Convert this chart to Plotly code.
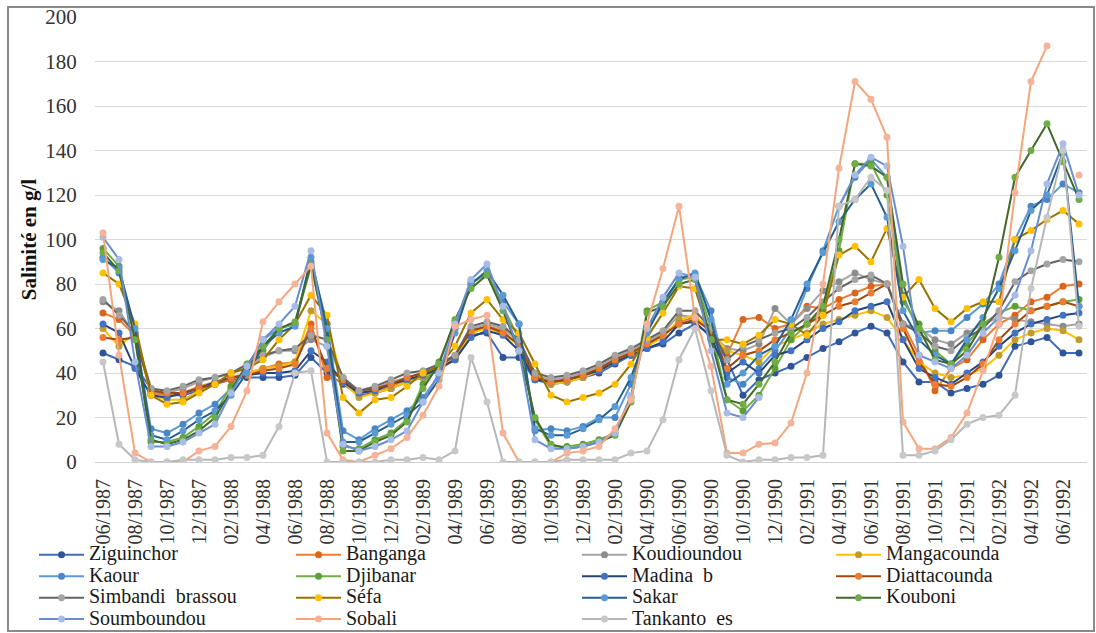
import plotly.graph_objects as go

months = ["06/1987", "07/1987", "08/1987", "09/1987", "10/1987", "11/1987", "12/1987",
          "01/1988", "02/1988", "03/1988", "04/1988", "05/1988", "06/1988", "07/1988",
          "08/1988", "09/1988", "10/1988", "11/1988", "12/1988", "01/1989", "02/1989",
          "03/1989", "04/1989", "05/1989", "06/1989", "07/1989", "08/1989", "09/1989",
          "10/1989", "11/1989", "12/1989", "01/1990", "02/1990", "03/1990", "04/1990",
          "05/1990", "06/1990", "07/1990", "08/1990", "09/1990", "10/1990", "11/1990",
          "12/1990", "01/1991", "02/1991", "03/1991", "04/1991", "05/1991", "06/1991",
          "07/1991", "08/1991", "09/1991", "10/1991", "11/1991", "12/1991", "01/1992",
          "02/1992", "03/1992", "04/1992", "05/1992", "06/1992", "07/1992"]

tick_labels = ["06/1987", "08/1987", "10/1987", "12/1987", "02/1988", "04/1988", "06/1988",
               "08/1988", "10/1988", "12/1988", "02/1989", "04/1989", "06/1989", "08/1989",
               "10/1989", "12/1989", "02/1990", "04/1990", "06/1990", "08/1990", "10/1990",
               "12/1990", "02/1991", "04/1991", "06/1991", "08/1991", "10/1991", "12/1991",
               "02/1992", "04/1992", "06/1992"]

ziguinchor = [49, 46, 43, 33, 30, 30, 32, 35, 37, 38, 38, 38, 39, 47, 40, 35, 30, 31, 33, 36, 38,
              41, 47, 57, 58, 47, 47, 37, 35, 36, 38, 40, 44, 48, 51, 53, 58, 62, 57, 46, 30, 37,
              40, 43, 47, 51, 54, 58, 61, 58, 45, 36, 36, 31, 33, 35, 39, 52, 54, 56, 49, 49]
banganga = [67, 64, 57, 31, 30, 31, 34, 36, 37, 40, 42, 44, 45, 62, 38, 36, 31, 32, 34, 37, 39,
            42, 46, 58, 61, 59, 52, 38, 36, 37, 39, 42, 46, 49, 53, 57, 63, 65, 60, 48, 64, 65,
            60, 62, 70, 69, 73, 76, 79, 80, 62, 48, 32, 42, 46, 55, 62, 66, 72, 74, 79, 80]
koudioundou = [72, 68, 57, 32, 31, 33, 36, 38, 40, 43, 47, 50, 50, 55, 52, 38, 31, 33, 36, 38, 40,
               43, 47, 60, 62, 60, 54, 39, 37, 38, 40, 43, 47, 50, 54, 58, 66, 65, 58, 51, 50, 53,
               69, 62, 69, 77, 81, 85, 82, 80, 62, 60, 55, 53, 58, 62, 65, 64, 63, 62, 61, 62]
mangacounda = [60, 52, 58, 30, 28, 28, 32, 35, 38, 40, 42, 43, 45, 68, 62, 36, 29, 31, 33, 36, 38,
               42, 46, 58, 60, 58, 52, 38, 35, 36, 38, 41, 45, 48, 52, 56, 64, 66, 58, 50, 48, 45,
               52, 55, 58, 62, 64, 66, 68, 65, 55, 45, 40, 38, 39, 42, 48, 55, 58, 60, 59, 55]
kaour = [92, 85, 58, 15, 13, 17, 22, 26, 33, 42, 55, 60, 62, 90, 62, 14, 10, 15, 19, 23, 29,
         39, 60, 81, 84, 72, 62, 14, 15, 14, 16, 20, 20, 35, 60, 70, 83, 84, 68, 38, 35, 42,
         50, 60, 78, 95, 115, 128, 136, 128, 75, 58, 59, 59, 65, 71, 80, 100, 115, 118, 125, 121]
djibanar = [96, 88, 56, 9, 9, 11, 16, 22, 34, 42, 50, 60, 62, 88, 57, 7, 6, 10, 13, 19, 35,
            45, 63, 80, 85, 70, 55, 19, 7, 7, 8, 10, 13, 29, 68, 72, 82, 83, 60, 28, 23, 30,
            42, 55, 62, 68, 95, 134, 134, 120, 72, 62, 50, 44, 53, 62, 67, 70, 68, 70, 72, 73]
madina_b = [62, 58, 42, 30, 29, 31, 33, 36, 38, 39, 40, 40, 41, 50, 45, 36, 31, 32, 35, 37, 39,
            42, 46, 56, 59, 57, 50, 37, 36, 37, 39, 41, 45, 48, 51, 54, 62, 63, 56, 40, 45, 40,
            48, 50, 55, 60, 63, 68, 70, 72, 55, 42, 38, 35, 40, 45, 52, 58, 62, 64, 66, 67]
diattacounda = [56, 55, 56, 32, 31, 31, 33, 35, 38, 39, 41, 42, 44, 60, 42, 37, 32, 33, 35, 38, 40,
                43, 48, 59, 61, 58, 53, 38, 36, 37, 39, 42, 46, 49, 53, 57, 62, 64, 59, 42, 48, 50,
                55, 58, 62, 66, 70, 72, 76, 80, 60, 45, 35, 34, 38, 44, 55, 62, 68, 70, 72, 70]
simbandi = [73, 66, 58, 33, 32, 34, 37, 38, 40, 44, 48, 50, 51, 57, 55, 38, 32, 34, 37, 40, 41,
            44, 48, 61, 63, 61, 55, 40, 38, 39, 41, 44, 48, 51, 55, 59, 68, 68, 60, 46, 52, 55,
            58, 60, 65, 72, 78, 82, 84, 80, 62, 58, 52, 50, 56, 60, 68, 81, 86, 89, 91, 90]
sefa = [85, 80, 62, 30, 26, 27, 31, 35, 40, 42, 46, 55, 62, 75, 66, 29, 22, 28, 29, 34, 40,
        43, 52, 67, 73, 64, 58, 44, 30, 27, 29, 31, 35, 44, 56, 67, 79, 78, 55, 55, 53, 57,
        64, 62, 57, 66, 93, 97, 90, 105, 74, 82, 69, 63, 69, 72, 72, 100, 104, 109, 113, 107]
sakar = [91, 87, 60, 12, 10, 14, 19, 23, 30, 40, 52, 58, 61, 92, 60, 9, 9, 13, 17, 21, 27,
         37, 58, 80, 86, 75, 62, 15, 12, 12, 15, 19, 25, 38, 58, 72, 82, 85, 64, 35, 40, 48,
         52, 64, 80, 94, 108, 118, 125, 110, 68, 55, 48, 44, 55, 65, 78, 95, 113, 120, 139, 70]
kouboni = [94, 86, 55, 10, 8, 10, 14, 20, 32, 44, 52, 60, 63, 89, 55, 5, 5, 9, 12, 18, 33,
           44, 64, 78, 84, 68, 50, 20, 8, 6, 7, 9, 12, 27, 67, 70, 80, 82, 55, 28, 26, 35,
           45, 58, 62, 70, 100, 134, 133, 128, 80, 60, 46, 44, 50, 62, 92, 128, 140, 152, 135, 118]
soumboundou = [101, 91, 45, 7, 7, 9, 13, 17, 31, 43, 55, 62, 70, 95, 52, 8, 5, 7, 10, 14, 27,
               40, 62, 82, 89, 70, 50, 10, 6, 6, 7, 9, 13, 30, 60, 74, 85, 83, 50, 22, 20, 29,
               None, None, None, None, 115, 129, 137, 133, 97, 48, 45, 42, 48, 58, 65, 75, 95,
               125, 143, 120]
sobali = [103, 48, 4, 0, 0, 0, 5, 7, 16, 32, 63, 72, 80, 88, 13, 1, 0, 3, 6, 11, 21,
          34, 61, 64, 66, 13, 0, 0, 0, 4, 5, 7, 15, 28, 62, 87, 115, 65, 43, 4, 4, 8,
          8.5, 17.5, 40, 80, 132, 171, 163, 146, 18, 6, 6, 11, 22, 41, 62, 121, 171, 187, None, 129]
tankanto = [45, 8, 1, 0, 0, 1, 1, 1, 2, 2, 3, 16, 40, 41, 0, 0, 0, 0, 1, 1, 2,
            1, 5, 47, 27, 0, 0, 0, 0, 1, 1, 1, 1, 4, 5, 19, 46, 60, 32, 3, 0, 1,
            1, 2, 2, 3, 115, 118, 128, 122, 3, 3, 5, 10, 17, 20, 21, 30, 78, 110, 140, 61]

series = [
    ("Ziguinchor", ziguinchor, "#3F6BBE", "#2F5597", "legend"),
    ("Banganga", banganga, "#ED7D31", "#D9661C", "legend2"),
    ("Koudioundou", koudioundou, "#A5A5A5", "#8C8C8C", "legend3"),
    ("Mangacounda", mangacounda, "#FFC000", "#BF9B30", "legend4"),
    ("Kaour", kaour, "#5B9BD5", "#4A86C5", "legend"),
    ("Djibanar", djibanar, "#70AD47", "#5E9E36", "legend2"),
    ("Madina  b", madina_b, "#264478", "#4472C4", "legend3"),
    ("Diattacounda", diattacounda, "#9E480E", "#ED7D31", "legend4"),
    ("Simbandi  brassou", simbandi, "#636363", "#A5A5A5", "legend"),
    ("Séfa", sefa, "#997300", "#FFC000", "legend2"),
    ("Sakar", sakar, "#255E91", "#5B9BD5", "legend3"),
    ("Kouboni", kouboni, "#43682B", "#70AD47", "legend4"),
    ("Soumboundou", soumboundou, "#698ED0", "#A9BCE6", "legend"),
    ("Sobali", sobali, "#F4A57A", "#F4B39A", "legend2"),
    ("Tankanto  es", tankanto, "#B7B7B7", "#C8C8C8", "legend3"),
]

fig = go.Figure()
for name, vals, lc, mc, lg in series:
    fig.add_trace(go.Scatter(
        x=months, y=vals,
        name="<span style='font-size:20px'>%s</span>" % name,
        mode="lines+markers",
        line=dict(color=lc, width=2),
        marker=dict(color=mc, size=7, symbol="circle"),
        legend=lg, connectgaps=False,
    ))

L, R, T, B = 95, 9, 17, 171
W, H = 1096, 633
pw, ph = W - L - R, H - T - B

def px_x(p):
    return (p - L) / pw

def px_y(p):
    return (H - B - p) / ph

legend_font = dict(family="Liberation Serif", size=14.2, color="#1a1a1a")
legend_common = dict(orientation="v", xanchor="left", yanchor="top",
                     font=legend_font, bgcolor="rgba(0,0,0,0)",
                     itemwidth=45, tracegroupgap=0)
legend_top = px_y(539)

fig.update_layout(
    width=W, height=H,
    margin=dict(l=L, r=R, t=T, b=B, autoexpand=False),
    paper_bgcolor="white", plot_bgcolor="white",
    showlegend=True,
    legend=dict(x=px_x(34), y=legend_top, **legend_common),
    legend2=dict(x=px_x(291), y=legend_top, **legend_common),
    legend3=dict(x=px_x(577), y=legend_top, **legend_common),
    legend4=dict(x=px_x(831), y=legend_top, **legend_common),
    xaxis=dict(
        type="category", range=[-0.5, 61.5],
        tickmode="array", tickvals=tick_labels, ticktext=tick_labels,
        tickangle=-90, tickfont=dict(family="Liberation Serif", size=20, color="#333333"),
        ticks="outside", ticklen=8, tickcolor="rgba(0,0,0,0)",
        showgrid=False, showline=True, linecolor="#D0D0D0", linewidth=1,
        zeroline=False,
    ),
    yaxis=dict(
        range=[0, 200], tickmode="array", tickvals=list(range(0, 201, 20)),
        tickfont=dict(family="Liberation Serif", size=21, color="#333333"),
        ticks="outside", ticklen=13, tickcolor="rgba(0,0,0,0)",
        showgrid=True, gridcolor="#D9D9D9", gridwidth=1,
        zeroline=False, showline=False,
        title=dict(text="<b>Salinité en g/l</b>",
                   font=dict(family="Liberation Serif", size=21, color="#111111"),
                   standoff=2),
    ),
    shapes=[dict(type="rect", xref="paper", yref="paper",
                 x0=px_x(8), x1=px_x(1094), y0=px_y(631), y1=px_y(7),
                 line=dict(color="#8A8A8A", width=2), fillcolor="rgba(0,0,0,0)",
                 layer="below")],
)

fig.write_html("out.html",
               config={"displayModeBar": False},
               post_script="document.body.style.margin='0';document.body.style.overflow='hidden';")
